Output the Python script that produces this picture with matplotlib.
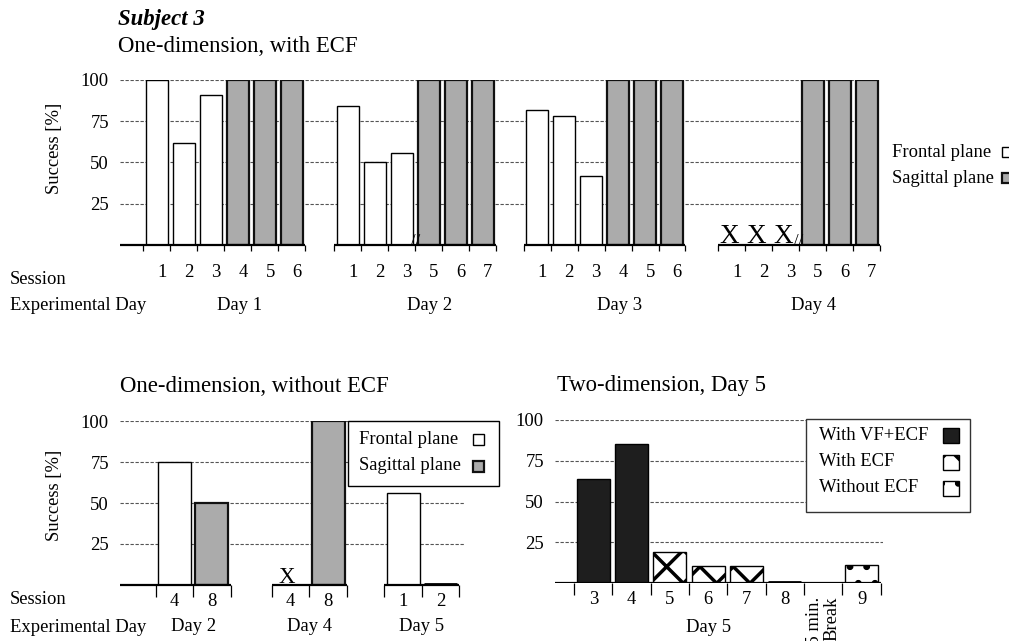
import numpy as np
import matplotlib
matplotlib.use("Agg")
import matplotlib.pyplot as plt
from matplotlib.patches import Rectangle

plt.rcParams['font.family'] = ['Liberation Serif', 'DejaVu Serif']
plt.rcParams['hatch.linewidth'] = 2.5

# ---- data ----
top_days = ["Day 1", "Day 2", "Day 3", "Day 4"]
top_sessions = [["1", "2", "3", "4", "5", "6"],
                ["1", "2", "3", "5", "6", "7"],
                ["1", "2", "3", "4", "5", "6"],
                ["1", "2", "3", "5", "6", "7"]]
top_planes = [["F", "F", "F", "S", "S", "S"]] * 4
top_values = [[100, 62, 91, 100, 100, 100],
              [84, 50, 56, 100, 100, 100],
              [82, 78, 42, 100, 100, 100],
              [None, None, None, 100, 100, 100]]   # None = not performed (X)

nodim_days = ["Day 2", "Day 4", "Day 5"]
nodim_sessions = [["4", "8"], ["4", "8"], ["1", "2"]]
nodim_planes = [["F", "S"], ["F", "S"], ["F", "F"]]
nodim_values = [[75, 50], [None, 100], [56, 0]]

two_sessions = ["3", "4", "5", "6", "7", "8", "9"]
two_cond = ["VF+ECF", "VF+ECF", "ECF", "ECF", "ECF", "ECF", "none"]
two_values = [64, 85, 19, 10.5, 10.5, 0, 11]

plane_labels = {"F": "Frontal plane", "S": "Sagittal plane"}
cond_labels = {"VF+ECF": "With VF+ECF", "ECF": "With ECF", "none": "Without ECF"}

# ---- styles / layout ----
W, H = 1009, 641
FS = 13.4
TFS = 16.4
plane_style = {"F": dict(facecolor="white", edgecolor="black", linewidth=1.0),
               "S": dict(facecolor="#ababab", edgecolor="#111111", linewidth=1.6)}
cond_style = {"VF+ECF": dict(facecolor="#1e1e1e", edgecolor="black", linewidth=1.0),
              "ECF": dict(facecolor="white", edgecolor="black", linewidth=1.0, hatch="x"),
              "none": dict(facecolor="white", edgecolor="black", linewidth=1.0, hatch=".")}


def fx(x):
    return x / W


def fy(y):
    return 1 - y / H


fig = plt.figure(figsize=(W / 100, H / 100), dpi=100)


def add_ax(l, t, r, b):
    return fig.add_axes([fx(l), fy(b), (r - l) / W, (b - t) / H])


def base_style(ax, xlim, ticklen):
    ax.set_xlim(*xlim)
    ax.set_ylim(0, 100)
    for s in ax.spines.values():
        s.set_visible(False)
    ax.set_yticks([25, 50, 75, 100])
    ax.tick_params(axis='y', length=0, pad=8, labelsize=FS)
    ax.yaxis.grid(True, linestyle=(0, (3, 1.5)), color='#555555', linewidth=0.8)
    ax.set_axisbelow(True)
    ax.tick_params(axis='x', which='minor', length=ticklen, width=0.9, color='black')
    ax.tick_params(axis='x', which='major', length=0, labelsize=FS)


def grouped(ax, offsets, days, sessions, kinds, values, style, width, xsize,
            day_y, first_start, label_shift=0.0):
    centers, labels, bounds = [], [], []
    for g, day in enumerate(days):
        x = offsets[g] + np.arange(len(sessions[g]))
        for xi, k, v in zip(x, kinds[g], values[g]):
            if v is None:
                ax.text(xi - 0.1, 1.5, "X", ha='center', va='baseline', fontsize=xsize)
            elif v == 0:
                # empty session: short thick line on the axis
                ax.hlines(0.8, xi - width / 2, xi + width / 2, color='black',
                          linewidth=2.0, zorder=4)
            else:
                ax.bar(xi, v, width=width, zorder=2, **style[k])
        centers += list(x)
        labels += sessions[g]
        bounds += list(x - 0.5) + [x[-1] + 0.5]
        start = first_start if g == 0 else x[0] - 0.5
        ax.hlines(0, start, x[-1] + 0.5, color='black', linewidth=1.6, zorder=3, clip_on=False)
        ax.text(x.mean() + label_shift, day_y, day, transform=ax.get_xaxis_transform(),
                ha='center', va='center', fontsize=FS)
    ax.set_xticks(np.array(centers) + label_shift * 0.35, labels)
    ax.set_xticks(bounds, minor=True)
    return centers


# ---- top: one-dimension, with ECF ----
ax1 = add_ax(120, 80, 880, 245)
xl1 = (-1.37, 26.78)
base_style(ax1, xl1, 4)
ax1.tick_params(axis='x', which='major', pad=14)
top_offsets = [0, 7.07, 14.09, 21.3]
grouped(ax1, top_offsets, top_days, top_sessions, top_planes, top_values,
        plane_style, 0.815, 19.5, -0.364, xl1[0], label_shift=0.55)
for g in (1, 3):
    ax1.text(top_offsets[g] + 2.5, 2.5, "//", ha='center', va='center', fontsize=12)

fig.text(fx(118), fy(20), "Subject 3", fontsize=TFS, fontweight='bold', fontstyle='italic', va='center')
fig.text(fx(118), fy(46), "One-dimension, with ECF", fontsize=TFS, va='center')
fig.text(fx(55), fy(148), "Success [%]", rotation=90, ha='center', va='center', fontsize=FS)
fig.text(fx(10), fy(279), "Session", fontsize=FS, va='center')
fig.text(fx(10), fy(305), "Experimental Day", fontsize=FS, va='center')

for i, k in enumerate(["F", "S"]):
    yc = [152, 178][i]
    fig.text(fx(892), fy(yc), plane_labels[k], fontsize=FS, va='center')
    fig.add_artist(Rectangle((fx(1002), fy(yc + 5)), 10 / W, 10 / H,
                             transform=fig.transFigure, **plane_style[k]))

# ---- bottom left: one-dimension, without ECF ----
ax2 = add_ax(120, 421, 465, 585)
xl2 = (-1.45, 7.75)
base_style(ax2, xl2, 8.5)
ax2.tick_params(axis='x', which='major', pad=6)
grouped(ax2, [0, 3.1, 6.1], nodim_days, nodim_sessions, nodim_planes, nodim_values,
        plane_style, 0.88, 16.5, -0.256, xl2[0], label_shift=0.0)

fig.text(fx(120), fy(387), "One-dimension, without ECF", fontsize=TFS, va='center')
fig.text(fx(55), fy(495), "Success [%]", rotation=90, ha='center', va='center', fontsize=FS)
fig.text(fx(10), fy(600), "Session", fontsize=FS, va='center')
fig.text(fx(10), fy(627), "Experimental Day", fontsize=FS, va='center')

fig.add_artist(Rectangle((fx(348), fy(486)), 151 / W, 65 / H, transform=fig.transFigure,
                         facecolor='white', edgecolor='black', linewidth=1.0))
for i, k in enumerate(["F", "S"]):
    yc = [439, 466][i]
    fig.text(fx(359), fy(yc), plane_labels[k], fontsize=FS, va='center', zorder=3)
    fig.add_artist(Rectangle((fx(473), fy(yc + 5.5)), 11 / W, 11 / H,
                             transform=fig.transFigure, zorder=3, **plane_style[k]))

# ---- bottom right: two-dimension, day 5 ----
ax3 = add_ax(555, 420, 883, 583)
xl3 = (-1.0, 7.56)
base_style(ax3, xl3, 8.5)
ax3.tick_params(axis='x', which='major', pad=6)
two_slots = np.array([0, 1, 2, 3, 4, 5, 7])  # slot 6 is the 15 min break
for xi, c, v in zip(two_slots, two_cond, two_values):
    if v == 0:
        ax3.hlines(0.8, xi - 0.43, xi + 0.43, color='black', linewidth=2.0, zorder=4)
    else:
        ax3.bar(xi, v, width=0.86, zorder=2, **cond_style[c])
ax3.hlines(0, xl3[0], 7.5, color='black', linewidth=1.6, zorder=3)
ax3.set_xticks(two_slots, two_sessions)
ax3.set_xticks(np.arange(9) - 0.5, minor=True)
ax3.text(3.0, -0.276, "Day 5", transform=ax3.get_xaxis_transform(),
         ha='center', va='center', fontsize=FS)
ax3.text(6.0, -0.086, "15 min.\nBreak", transform=ax3.get_xaxis_transform(),
         rotation=90, ha='center', va='top', multialignment='right',
         linespacing=1.0, fontsize=FS)

fig.text(fx(557), fy(386), "Two-dimension, Day 5", fontsize=TFS, va='center')
fig.add_artist(Rectangle((fx(806), fy(512)), 164 / W, 93 / H, transform=fig.transFigure,
                         facecolor='white', edgecolor='#333333', linewidth=1.0))
for i, c in enumerate(["VF+ECF", "ECF", "none"]):
    yc = [435, 462, 488][i]
    fig.text(fx(819), fy(yc), cond_labels[c], fontsize=FS, va='center', zorder=3)
    fig.add_artist(Rectangle((fx(943), fy(yc + 7.5)), 16 / W, 15 / H,
                             transform=fig.transFigure, zorder=3, **cond_style[c]))

fig.savefig("out.png", dpi=100)
